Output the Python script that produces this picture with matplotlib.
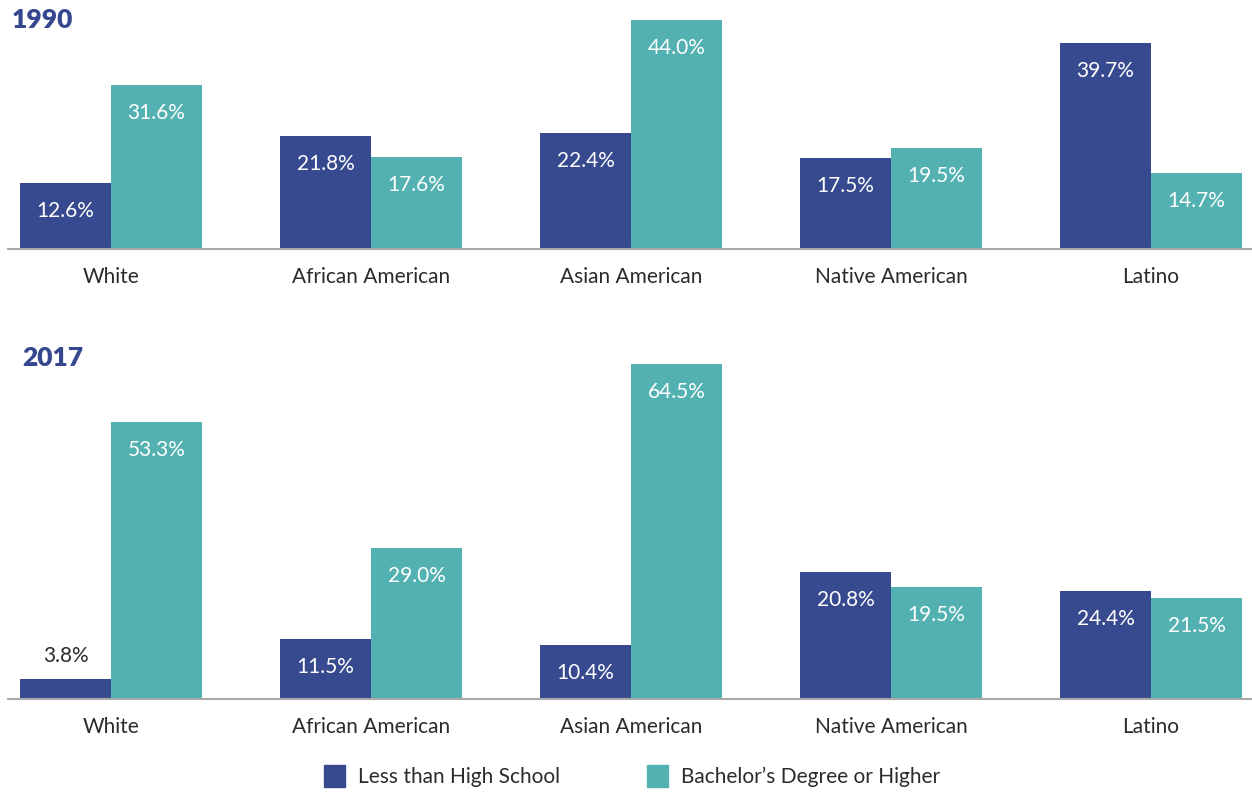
import numpy as np
import matplotlib.pyplot as plt
from matplotlib.patches import Patch

plt.rcParams['font.family'] = ['Lato', 'DejaVu Sans']

groups = ["White", "African American", "Asian American", "Native American", "Latino"]
# printed values
less_hs_1990 = [12.6, 21.8, 22.4, 17.5, 39.7]
bach_1990 = [31.6, 17.6, 44.0, 19.5, 14.7]
less_hs_2017 = [3.8, 11.5, 10.4, 20.8, 24.4]
bach_2017 = [53.3, 29.0, 64.5, 19.5, 21.5]
# bar heights as drawn in 2017 (Native American / Latino bars are swapped in the source)
less_hs_2017_bars = [3.8, 11.5, 10.4, 24.4, 20.8]
bach_2017_bars = [53.3, 29.0, 64.5, 21.5, 19.5]

blue = "#384a8f"
teal = "#53b2b1"
dark = "#2b2b2b"

W, H = 1252, 793
fig = plt.figure(figsize=(W / 100, H / 100), dpi=100)

px_per_pct = 5.2
x = np.arange(len(groups))
bw = 0.35


def panel(ax, less, bach, less_lab, bach_lab, top_px, base_px):
    ax.bar(x - bw / 2, less, bw, color=blue)
    ax.bar(x + bw / 2, bach, bw, color=teal)
    ax.set_xlim((8 - 111) / 260, (1252 - 111) / 260)
    ax.set_ylim(0, (base_px - top_px) / px_per_pct)
    for xs, vals, labs in [(x - bw / 2, less, less_lab), (x + bw / 2, bach, bach_lab)]:
        for xi, v, lab in zip(xs, vals, labs):
            if v < 8:
                ax.annotate(f"{lab:.1f}%", (xi, v), xytext=(0, 23), textcoords="offset pixels",
                            ha="center", va="center", color=dark, fontsize=15)
            else:
                ax.annotate(f"{lab:.1f}%", (xi, v), xytext=(0, -28), textcoords="offset pixels",
                            ha="center", va="center", color="white", fontsize=15)
    ax.set_xticks(x)
    ax.set_xticklabels(groups, fontsize=15, color=dark)
    ax.tick_params(axis="x", length=0, pad=13)
    ax.set_yticks([])
    for s in ["top", "right", "left"]:
        ax.spines[s].set_visible(False)
    ax.spines["bottom"].set_color("#aaaaaa")
    ax.spines["bottom"].set_linewidth(1.5)


ax1 = fig.add_axes([8 / W, 1 - 249 / H, 1 - 8 / W, 249 / H])
panel(ax1, less_hs_1990, bach_1990, less_hs_1990, bach_1990, 0, 249)
ax2 = fig.add_axes([8 / W, 1 - 699 / H, 1 - 8 / W, 359 / H])
panel(ax2, less_hs_2017_bars, bach_2017_bars, less_hs_2017, bach_2017, 340, 699)

fig.text(12 / W, 1 - 20 / H, "1990", fontsize=19, fontweight="heavy", color="#34478f", va="center")
fig.text(22 / W, 1 - 358 / H, "2017", fontsize=19, fontweight="heavy", color="#34478f", va="center")

handles = [Patch(color=blue, label="Less than High School"),
           Patch(color=teal, label="Bachelor\u2019s Degree or Higher")]
fig.legend(handles=handles, loc="center", bbox_to_anchor=(632 / W, 1 - 776 / H), ncol=2,
           frameon=False, fontsize=15, handlelength=1.0, handleheight=1.2,
           columnspacing=4.2, handletextpad=0.6, labelcolor=dark)

fig.savefig("out.png", dpi=100)
